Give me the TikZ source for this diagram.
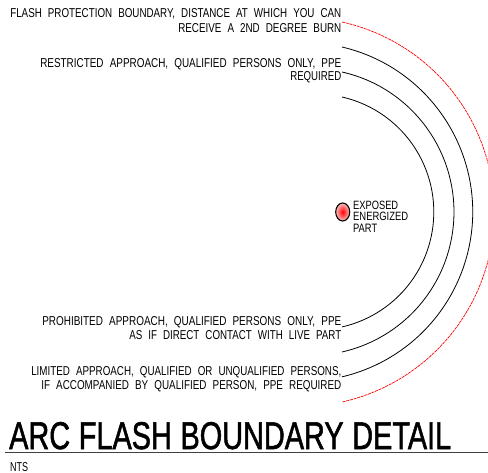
\documentclass[tikz,border=0pt]{standalone}
\usepackage{fontspec}
\usetikzlibrary{shapes.geometric}
\setmainfont{Liberation Sans}
\newfontfamily\titlefont[FakeBold=1.6]{Liberation Sans}
\tikzset{
 lbl/.style={inner sep=0pt,anchor=base east,font=\fontsize{11.5}{11.5}\selectfont},
 arcb/.style={draw=black,line width=0.8pt},
 arcr/.style={draw=red,line width=0.7pt,dash pattern=on 3pt off 0.8pt},
}
\newcommand{\fit}[2]{\resizebox{#1}{9bp}{\spaceskip=0.62em\relax #2}}
\newcommand{\fitsmall}[2]{\resizebox{#1}{8.4bp}{#2}}
\begin{document}
\begin{tikzpicture}[x=1bp,y=-1bp]
\useasboundingbox (0,0) rectangle (488,473);
\coordinate (rt) at (342,22);
\coordinate (at) at (342,47);
\coordinate (bt) at (342,72);
\coordinate (ct) at (342,97);
\begin{scope}
\clip (0,0) rectangle (488,473);
\draw[arcr] (rt) arc[start angle=-77.4,end angle=77.4,radius=194.7];
\end{scope}
\draw[arcb] (at) arc[start angle=-76.8,end angle=76.8,radius=169.4];
\draw[arcb] (bt) arc[start angle=-77.3,end angle=77.3,radius=143.5];
\draw[arcb] (ct) arc[start angle=-77.2,end angle=77.2,radius=117.9];
\shade[inner color=red,outer color=red!25] (342.7,212) ellipse[x radius=7,y radius=9];
\node[draw=black,line width=1.1pt,ellipse,minimum width=14bp,minimum height=18bp,inner sep=0pt] (part) at (342.7,212) {};
\node[lbl,anchor=base west] (e1) at (353,209.3) {\fitsmall{45bp}{EXPOSED}};
\node[lbl,anchor=base west] (e2) at (353,221) {\fitsmall{55bp}{ENERGIZED}};
\node[lbl,anchor=base west] (e3) at (353,232.6) {\fitsmall{24bp}{PART}};
\node[lbl] (f1) at (341.5,18) {\fit{331bp}{FLASH PROTECTION BOUNDARY, DISTANCE AT WHICH YOU CAN}};
\node[lbl] (f2) at (341.5,33) {\fit{163bp}{RECEIVE A 2ND DEGREE BURN}};
\node[lbl] (r1) at (341.5,68) {\fit{301bp}{RESTRICTED APPROACH, QUALIFIED PERSONS ONLY, PPE}};
\node[lbl] (r2) at (341.5,81) {\fit{51bp}{REQUIRED}};
\node[lbl] (p1) at (341.5,325) {\fit{299bp}{PROHIBITED APPROACH, QUALIFIED PERSONS ONLY, PPE}};
\node[lbl] (p2) at (341.5,339) {\fit{212bp}{AS IF DIRECT CONTACT WITH LIVE PART}};
\node[lbl] (l1) at (341.5,375) {\fit{310bp}{LIMITED APPROACH, QUALIFIED OR UNQUALIFIED PERSONS,}};
\node[lbl] (l2) at (341.5,389) {\fit{300bp}{IF ACCOMPANIED BY QUALIFIED PERSON, PPE REQUIRED}};
\node[inner sep=0pt,anchor=base west] (title) at (9,449) {\resizebox{442bp}{27bp}{\titlefont\spaceskip=0.3em\relax ARC FLASH BOUNDARY DETAIL}};
\coordinate (u1) at (5,452);
\coordinate (u2) at (488,452);
\draw[line width=0.9pt,black!75] (u1) -- (u2);
\node[lbl,anchor=base west] (nts) at (10,471) {\fit{18bp}{NTS}};
\end{tikzpicture}
\end{document}
